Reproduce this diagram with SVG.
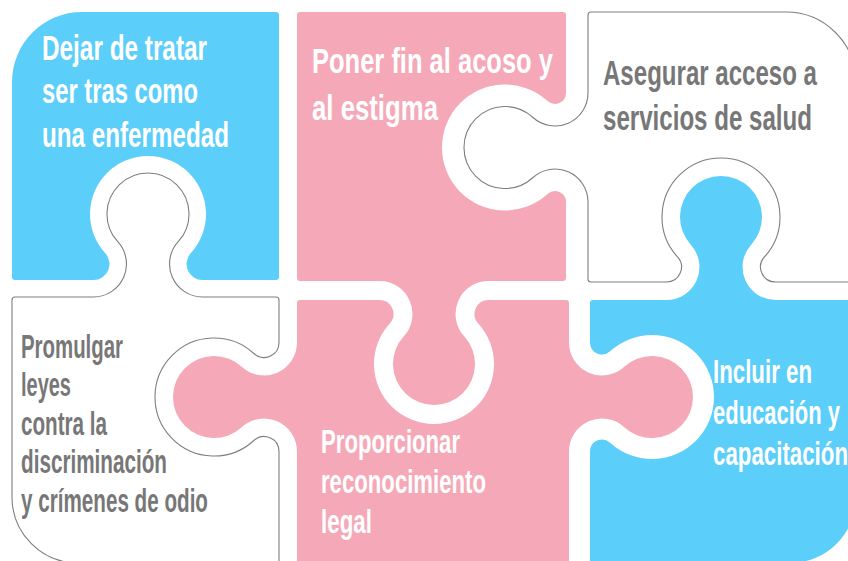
<svg xmlns="http://www.w3.org/2000/svg" width="848" height="561" viewBox="0 0 848 561">
<style>
.blue{fill:#5BCEFA}
.pink{fill:#F5A9B8}
.white{fill:#FFFFFF;stroke:#7E7E7E;stroke-width:1.1}
.t{font-family:"Liberation Sans",Arial,sans-serif;font-weight:bold}
.big{font-size:35px}
.small{font-size:33px}
.tw{fill:#FFFFFF}
.tg{fill:#777777}
</style>
<rect x="0" y="0" width="848" height="561" fill="#FFFFFF"/>

<g id="piece-top-left">
<path class="blue" d="M12,82 A70,70 0 0 1 82,12 L276,12 A3,3 0 0 1 279,15 L279,277 A3,3 0 0 1 276,280 L202.55,280 A16,16 0 0 1 190.75,253.19 A58,58 0 1 0 105.25,253.19 A16,16 0 0 1 93.45,280 L15,280 A3,3 0 0 1 12,277 Z"/>
<text class="t big tw" transform="translate(42,60) scale(0.72,1)" textLength="229.2" lengthAdjust="spacingAndGlyphs">Dejar de tratar</text>
<text class="t big tw" transform="translate(42,103) scale(0.72,1)" textLength="216.7" lengthAdjust="spacingAndGlyphs">ser tras como</text>
<text class="t big tw" transform="translate(42,147) scale(0.72,1)" textLength="259.7" lengthAdjust="spacingAndGlyphs">una enfermedad</text>
</g>

<g id="piece-top-middle">
<path class="pink" d="M300,12 L563,12 A3,3 0 0 1 566,15 L566,92.95 A11,11 0 0 1 547.57,101.06 A63,63 0 1 0 547.57,193.94 A11,11 0 0 1 566,202.05 L566,278 A3,3 0 0 1 563,281 L488.55,281 A33,33 0 0 0 464.22,336.3 A41,41 0 1 1 403.78,336.3 A33,33 0 0 0 379.45,281 L300,281 A3,3 0 0 1 297,278 L297,15 A3,3 0 0 1 300,12 Z"/>
<text class="t big tw" transform="translate(312,73) scale(0.72,1)" textLength="334.7" lengthAdjust="spacingAndGlyphs">Poner fin al acoso y</text>
<text class="t big tw" transform="translate(312,120) scale(0.72,1)" textLength="175" lengthAdjust="spacingAndGlyphs">al estigma</text>
</g>

<g id="piece-top-right">
<path class="white" d="M591,12 L786,12 A70,70 0 0 1 856,82 L856,279 A3,3 0 0 1 853,282 L775.55,282 A15,15 0 0 1 764.49,256.86 A59,59 0 1 0 677.51,256.86 A15,15 0 0 1 666.45,282 L591,282 A3,3 0 0 1 588,279 L588,202.05 A33,33 0 0 0 532.7,177.72 A41,41 0 1 1 532.7,117.28 A33,33 0 0 0 588,92.95 L588,15 A3,3 0 0 1 591,12 Z"/>
<text class="t big tg" transform="translate(603,85) scale(0.72,1)" textLength="297.2" lengthAdjust="spacingAndGlyphs">Asegurar acceso a</text>
<text class="t big tg" transform="translate(603,130) scale(0.72,1)" textLength="290.3" lengthAdjust="spacingAndGlyphs">servicios de salud</text>
</g>

<g id="piece-bottom-left">
<path class="white" d="M15,297 L93.45,297 A33,33 0 0 0 117.78,241.7 A41,41 0 1 1 178.22,241.7 A33,33 0 0 0 202.55,297 L276,297 A3,3 0 0 1 279,300 L279,342.45 A15,15 0 0 1 253.86,353.51 A59,59 0 1 0 253.86,440.49 A15,15 0 0 1 279,451.55 L279,563 L78,563 A66,66 0 0 1 12,497 L12,300 A3,3 0 0 1 15,297 Z"/>
<text class="t small tg" transform="translate(21,358) scale(0.72,1)" textLength="141.7" lengthAdjust="spacingAndGlyphs">Promulgar</text>
<text class="t small tg" transform="translate(21,396) scale(0.72,1)" textLength="69.4" lengthAdjust="spacingAndGlyphs">leyes</text>
<text class="t small tg" transform="translate(21,435) scale(0.72,1)" textLength="119.4" lengthAdjust="spacingAndGlyphs">contra la</text>
<text class="t small tg" transform="translate(21,473) scale(0.72,1)" textLength="202.8" lengthAdjust="spacingAndGlyphs">discriminación</text>
<text class="t small tg" transform="translate(21,512) scale(0.72,1)" textLength="259.7" lengthAdjust="spacingAndGlyphs">y crímenes de odio</text>
</g>

<g id="piece-bottom-middle">
<path class="pink" d="M300,300 L379.45,300 A14,14 0 0 1 389.77,323.46 A60,60 0 1 0 478.23,323.46 A14,14 0 0 1 488.55,300 L566,300 A3,3 0 0 1 569,303 L569,342.45 A33,33 0 0 0 624.3,366.78 A41,41 0 1 1 624.3,427.22 A33,33 0 0 0 569,451.55 L569,566 L297,566 L297,451.55 A33,33 0 0 0 241.7,427.22 A41,41 0 1 1 241.7,366.78 A33,33 0 0 0 297,342.45 L297,303 A3,3 0 0 1 300,300 Z"/>
<text class="t small tw" transform="translate(321,453) scale(0.72,1)" textLength="193.1" lengthAdjust="spacingAndGlyphs">Proporcionar</text>
<text class="t small tw" transform="translate(321,493) scale(0.72,1)" textLength="229.2" lengthAdjust="spacingAndGlyphs">reconocimiento</text>
<text class="t small tw" transform="translate(321,533) scale(0.72,1)" textLength="70.8" lengthAdjust="spacingAndGlyphs">legal</text>
</g>

<g id="piece-bottom-right">
<path class="blue" d="M593,300 L666.45,300 A33,33 0 0 0 690.78,244.7 A41,41 0 1 1 751.22,244.7 A33,33 0 0 0 775.55,300 L853,300 A3,3 0 0 1 856,303 L856,497 A66,66 0 0 1 790,563 L590,563 L590,451.55 A12,12 0 0 1 610.11,442.7 A62,62 0 1 0 610.11,351.3 A12,12 0 0 1 590,342.45 L590,303 A3,3 0 0 1 593,300 Z"/>
<text class="t small tw" transform="translate(713,383) scale(0.72,1)" textLength="137.5" lengthAdjust="spacingAndGlyphs">Incluir en</text>
<text class="t small tw" transform="translate(713,424) scale(0.72,1)" textLength="176.4" lengthAdjust="spacingAndGlyphs">educación y</text>
<text class="t small tw" transform="translate(713,465) scale(0.72,1)" textLength="187.5" lengthAdjust="spacingAndGlyphs">capacitación</text>
</g>
</svg>
